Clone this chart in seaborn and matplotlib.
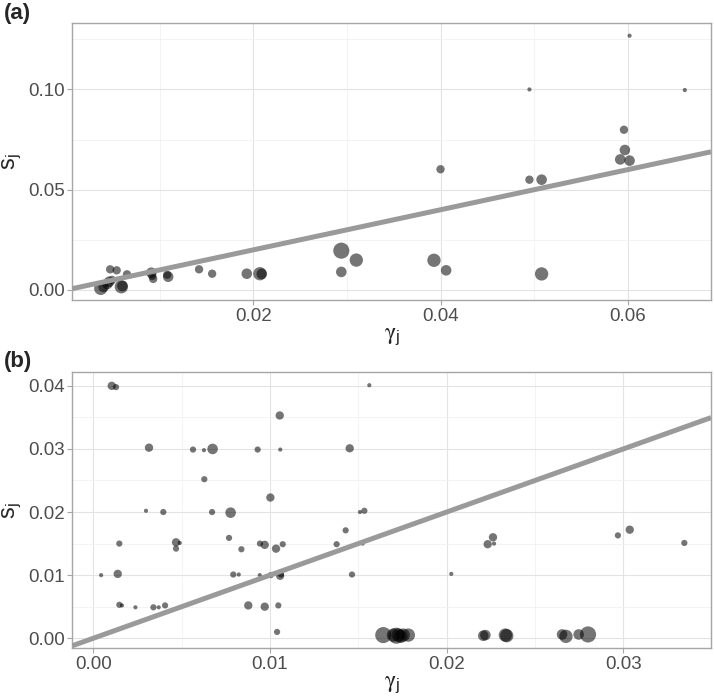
import matplotlib
matplotlib.use("Agg")
import matplotlib.pyplot as plt
import matplotlib.ticker as mticker
import pandas as pd
import seaborn as sns

# panel (a): gamma_j vs s_j, point size level 1..6
A_GAMMA = [0.0602, 0.0661, 0.0495, 0.0596, 0.0597, 0.0592, 0.0602, 0.0400, 0.0495, 0.0508,
           0.0294, 0.0310, 0.0294, 0.0393, 0.0406, 0.0508, 0.0193, 0.0207, 0.0209, 0.0142,
           0.0156, 0.0109, 0.0108, 0.0091, 0.0092, 0.0093, 0.0047, 0.0054, 0.0065, 0.0037,
           0.0046, 0.0044, 0.0049, 0.0059, 0.0060, 0.0040]
A_S = [0.1268, 0.0997, 0.1000, 0.0799, 0.0698, 0.0651, 0.0645, 0.0602, 0.0550, 0.0550,
       0.0196, 0.0149, 0.0090, 0.0148, 0.0098, 0.0080, 0.0081, 0.0081, 0.0080, 0.0103,
       0.0081, 0.0066, 0.0076, 0.0086, 0.0070, 0.0055, 0.0103, 0.0098, 0.0078, 0.0008,
       0.0041, 0.0030, 0.0050, 0.0016, 0.0020, 0.0015]
A_W = [1, 1, 1, 3, 4, 4, 4, 3, 3, 4,
       6, 5, 4, 5, 4, 5, 4, 5, 4, 3,
       3, 4, 3, 4, 3, 3, 3, 3, 3, 5,
       4, 4, 3, 5, 4, 4]

# panel (b)
B_GAMMA = [0.00104, 0.00128, 0.01562, 0.01055, 0.00315, 0.00564, 0.00626, 0.00675, 0.0093, 0.01058,
           0.01451, 0.00628, 0.01002, 0.00298, 0.00396, 0.00672, 0.00777, 0.01509, 0.01534, 0.01428,
           0.00768, 0.00147, 0.00468, 0.00489, 0.00468, 0.00943, 0.0097, 0.00838, 0.01034, 0.01072,
           0.01377, 0.01524, 0.00044, 0.00138, 0.00792, 0.00823, 0.00942, 0.01004, 0.01057, 0.01062,
           0.01464, 0.00147, 0.00162, 0.00238, 0.0034, 0.0037, 0.00406, 0.00877, 0.0097, 0.01047,
           0.0104, 0.02262, 0.02232, 0.02268, 0.02026, 0.02969, 0.03036, 0.03345,
           0.01641, 0.01698, 0.01715, 0.01726, 0.01740, 0.01754, 0.01783, 0.02207, 0.02219, 0.02332,
           0.02340, 0.02653, 0.02675, 0.02747, 0.02800]
B_S = [0.0400, 0.0398, 0.0401, 0.0353, 0.0302, 0.0299, 0.0298, 0.0300, 0.0299, 0.0299,
       0.0301, 0.0252, 0.0223, 0.0202, 0.0200, 0.0200, 0.0199, 0.0200, 0.0202, 0.0171,
       0.0159, 0.0150, 0.0152, 0.0151, 0.0142, 0.0150, 0.0148, 0.0141, 0.0142, 0.0149,
       0.0149, 0.0150, 0.0100, 0.0102, 0.0101, 0.0101, 0.0100, 0.0100, 0.0099, 0.0101,
       0.0101, 0.0053, 0.0052, 0.0049, 0.0049, 0.0049, 0.0052, 0.0052, 0.0050, 0.0052,
       0.0010, 0.0160, 0.0149, 0.0150, 0.0102, 0.0163, 0.0172, 0.0151,
       0.0005, 0.0005, 0.0004, 0.0005, 0.0003, 0.0005, 0.0005, 0.0004, 0.0005, 0.0005,
       0.0004, 0.0006, 0.0003, 0.0006, 0.0006]
B_W = [3, 2, 1, 3, 3, 2, 1, 4, 2, 1,
       3, 2, 3, 1, 2, 2, 4, 1, 2, 2,
       2, 2, 3, 1, 2, 2, 3, 2, 3, 2,
       2, 1, 1, 3, 2, 1, 1, 2, 3, 2,
       2, 2, 1, 1, 2, 1, 2, 3, 3, 2,
       2, 3, 3, 1, 1, 2, 3, 2,
       6, 5, 6, 5, 5, 5, 5, 4, 4, 5,
       5, 4, 5, 4, 6]

SIZE_MAP = {1: 9, 2: 20, 3: 36, 4: 58, 5: 92, 6: 135}

A_XLIM, A_YLIM = (0.00066, 0.0689), (-0.0050, 0.1330)
B_XLIM, B_YLIM = (-0.00119, 0.03496), (-0.00158, 0.04216)

sns.set_theme(style="whitegrid")
plt.rcParams["font.family"] = ["Liberation Sans", "DejaVu Sans"]
plt.rcParams["mathtext.fontset"] = "stix"

fig = plt.figure(figsize=(7.14, 6.97), dpi=100)
ax_a = fig.add_axes([0.1013, 0.5696, 0.8945, 0.3970])
ax_b = fig.add_axes([0.1013, 0.0700, 0.8945, 0.3960])


def draw_panel(ax, gamma, s, w, xlim, ylim, xmaj, xmin, ymaj, ymin):
    df = pd.DataFrame({"gamma": gamma, "s": s, "w": w})
    sns.scatterplot(data=df, x="gamma", y="s", size="w", sizes=SIZE_MAP,
                    color="black", alpha=0.54, linewidth=0, legend=False, ax=ax, zorder=2)
    ax.axline((0, 0), slope=1, color="#9a9a9a", lw=3.6, zorder=3, solid_capstyle="butt")
    ax.set_xlim(*xlim)
    ax.set_ylim(*ylim)
    ax.xaxis.set_major_locator(mticker.MultipleLocator(xmaj))
    ax.xaxis.set_minor_locator(mticker.MultipleLocator(xmin))
    ax.yaxis.set_major_locator(mticker.MultipleLocator(ymaj))
    ax.yaxis.set_minor_locator(mticker.MultipleLocator(ymin))
    ax.xaxis.set_major_formatter(mticker.FormatStrFormatter("%.2f"))
    ax.yaxis.set_major_formatter(mticker.FormatStrFormatter("%.2f"))
    ax.grid(which="major", color="#e3e3e3", lw=0.8)
    ax.grid(which="minor", color="#f1f1f1", lw=0.6)
    ax.set_axisbelow(True)
    for sp in ax.spines.values():
        sp.set_color("#a6a6a6")
        sp.set_linewidth(1.0)
    ax.tick_params(which="major", length=3.5, width=0.8, color="#a6a6a6",
                   labelsize=13.5, labelcolor="#4d4d4d", pad=2, bottom=True, left=True)
    ax.tick_params(which="minor", length=0)
    ax.set_xlabel(r"$\mathrm{\gamma}_\mathregular{j}$", fontsize=17, labelpad=0)
    ax.set_ylabel(r"$\mathregular{s_j}$", fontsize=17, labelpad=3)


draw_panel(ax_a, A_GAMMA, A_S, A_W, A_XLIM, A_YLIM, 0.02, 0.01, 0.05, 0.025)
draw_panel(ax_b, B_GAMMA, B_S, B_W, B_XLIM, B_YLIM, 0.01, 0.005, 0.01, 0.005)

fig.text(0.006, 0.995, "(a)", fontsize=16, fontweight="bold", va="top", ha="left")
fig.text(0.006, 0.497, "(b)", fontsize=16, fontweight="bold", va="top", ha="left")

fig.savefig("out.png", dpi=100)
